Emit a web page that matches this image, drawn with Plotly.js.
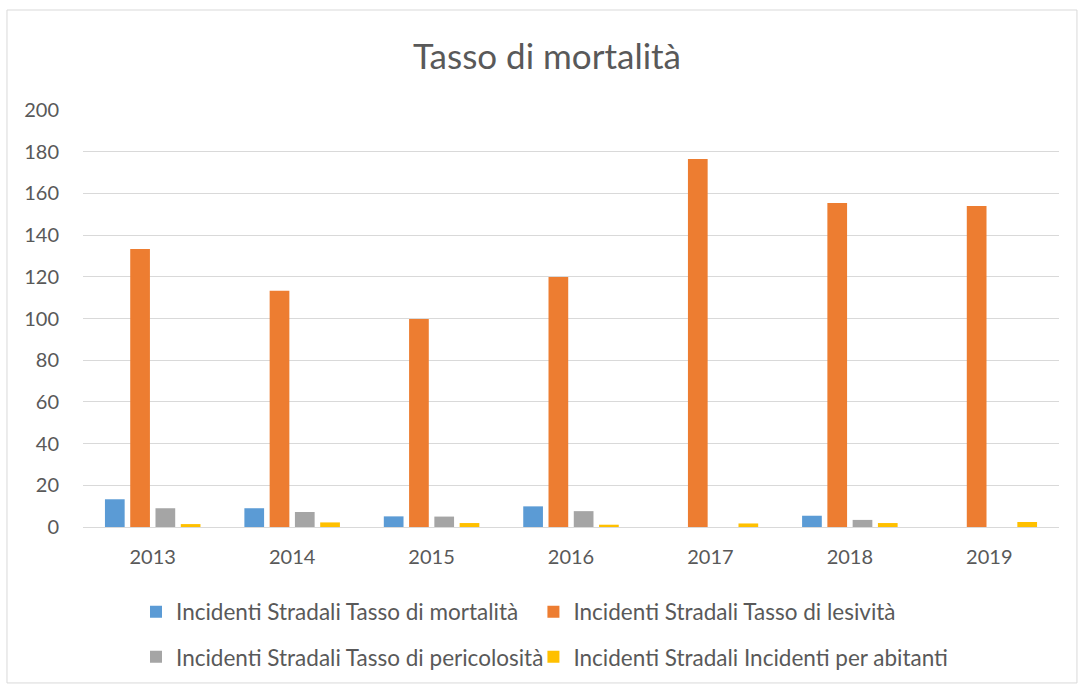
<!DOCTYPE html>
<html>
<head>
<meta charset="utf-8">
<script src="https://cdn.plot.ly/plotly-3.0.1.min.js"></script>
<style>
	html, body { margin: 0; padding: 0; background: #fff; }
	#graph { width: 1078px; height: 684px; }
</style>
</head>
<body>
<div id="graph"></div>
<script>
// Chart values
const years = ['2013', '2014', '2015', '2016', '2017', '2018', '2019']
const mortalita = [13.3, 9.0, 5.1, 9.9, null, 5.4, null]
const lesivita = [133.3, 113.3, 99.8, 119.9, 176.5, 155.4, 154.0]
const pericolosita = [9.0, 7.2, 5.0, 7.6, null, 3.4, null]
const perAbitanti = [1.4, 2.2, 1.9, 1.1, 1.7, 1.9, 2.4]

const seriesNames = [
	'Incidenti Stradali Tasso di mortalità',
	'Incidenti Stradali Tasso di lesività',
	'Incidenti Stradali Tasso di pericolosità',
	'Incidenti Stradali Incidenti per abitanti',
]
const colors = ['#5B9BD5', '#ED7D31', '#A5A5A5', '#FFC000']

const FONT = 'Lato, "Open Sans", sans-serif'
const TEXT = '#595959'

// one legend per series so each entry sits where the reference has it (2x2 grid)
const legendIds = ['legend', 'legend2', 'legend3', 'legend4']
const legendPos = [
	{ x: 0.0543, y: -0.204 },
	{ x: 0.4615, y: -0.204 },
	{ x: 0.0543, y: -0.312 },
	{ x: 0.4615, y: -0.312 },
]

const values = [mortalita, lesivita, pericolosita, perAbitanti]
const data = values.map((y, i) => ({
	type: 'bar',
	name: seriesNames[i],
	x: years,
	y: y,
	marker: { color: colors[i] },
	legend: legendIds[i],
	showlegend: true,
	hoverinfo: 'x+y+name',
}))

// plot area in pixels: x 83..1059, y 110..527
const layout = {
	width: 1078,
	height: 684,
	margin: { l: 83, r: 19, t: 110, b: 157, autoexpand: false },
	showlegend: true,	// the main legend only holds one trace, so force it on
	paper_bgcolor: '#ffffff',
	plot_bgcolor: '#ffffff',
	font: { family: FONT, color: TEXT },
	title: {
		text: 'Tasso di mortalità',
		font: { family: FONT, size: 35, color: TEXT },
		x: 0.5074,
		xanchor: 'center',
		y: 0.917,
		yanchor: 'middle',
	},
	barmode: 'group',
	bargap: 0.275,
	bargroupgap: 0.22,
	xaxis: {
		type: 'category',
		tickfont: { family: FONT, size: 20, color: TEXT },
		showgrid: false,
		showline: true,
		linecolor: '#d9d9d9',
		linewidth: 1,
		ticks: '',
		ticklabelstandoff: 12,
	},
	yaxis: {
		range: [0, 200],
		dtick: 20,
		tickfont: { family: FONT, size: 20, color: TEXT },
		showgrid: true,
		gridcolor: '#d9d9d9',
		gridwidth: 1,
		zeroline: false,
		showline: false,
		ticks: '',
		ticklabelstandoff: 23,
	},
	shapes: [{
		// outer chart border
		type: 'rect',
		xref: 'paper', yref: 'paper',
		x0: -0.0779, x1: 1.0184,
		y0: -0.374, y1: 1.2398,
		line: { color: '#d9d9d9', width: 1 },
		fillcolor: 'rgba(0,0,0,0)',
		layer: 'below',
	}],
}

legendIds.forEach((id, i) => {
	layout[id] = {
		visible: true,
		orientation: 'h',
		xanchor: 'left',
		yanchor: 'middle',
		x: legendPos[i].x,
		y: legendPos[i].y,
		font: { family: FONT, size: 22.5, color: TEXT },
		itemwidth: 30,
		bgcolor: 'rgba(0,0,0,0)',
	}
})

Plotly.newPlot('graph', data, layout, { displayModeBar: false, staticPlot: true })
</script>
</body>
</html>
